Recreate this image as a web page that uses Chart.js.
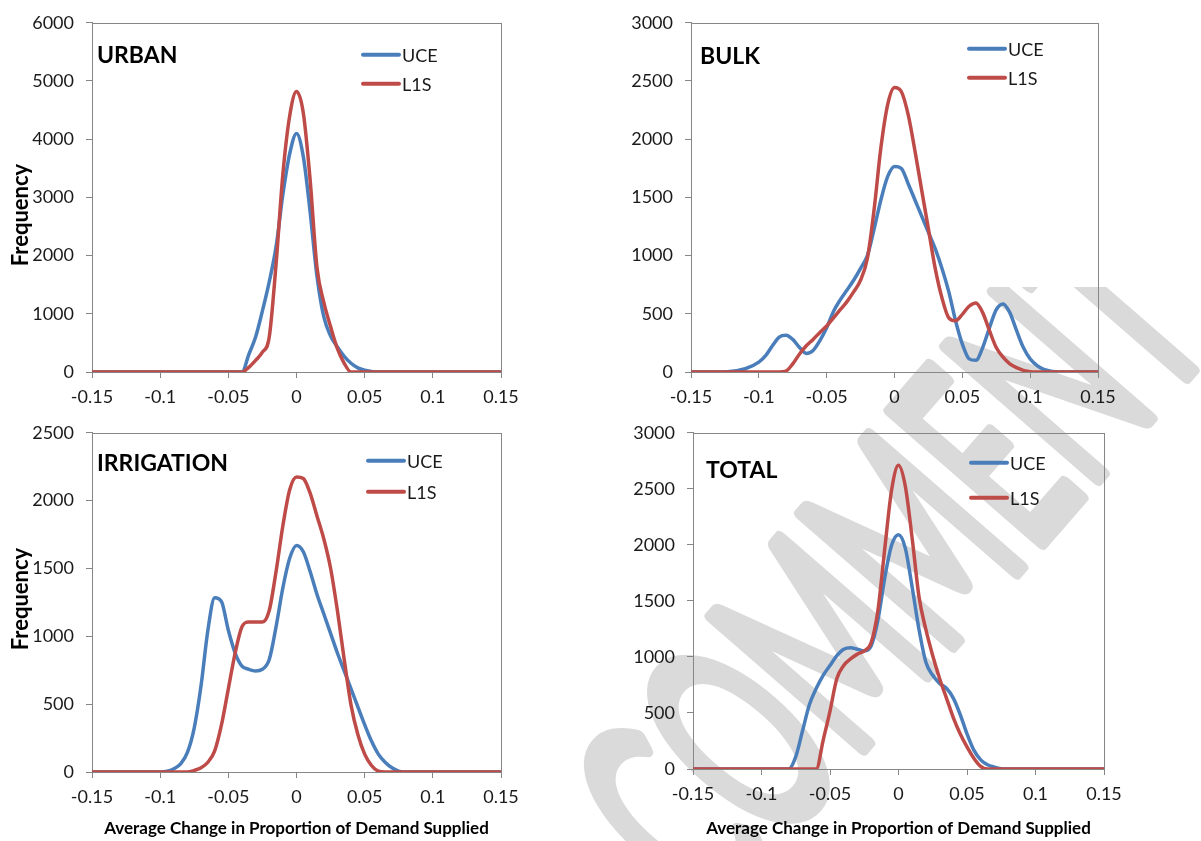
<!DOCTYPE html>
<html>
<head>
<meta charset="utf-8">
<script src="https://cdn.jsdelivr.net/npm/chart.js@4.4.0/dist/chart.umd.min.js"></script>
<style>
  html, body { margin: 0; padding: 0; background: #fff; }
  #page { position: relative; width: 1201px; height: 841px; overflow: hidden; }
  #stamp { position: absolute; left: 0; top: 0; }
  .panel { position: absolute; }
</style>
</head>
<body>
<div id="page">
  <canvas id="stamp" width="1201" height="841"></canvas>
  <canvas id="urban" class="panel" width="600" height="410" style="left:0;top:0"></canvas>
  <canvas id="bulk" class="panel" width="601" height="410" style="left:600px;top:0"></canvas>
  <canvas id="irrigation" class="panel" width="600" height="431" style="left:0;top:410px"></canvas>
  <canvas id="total" class="panel" width="601" height="431" style="left:600px;top:410px"></canvas>
</div>
<script>
// axis ticks
var xTicks = [-0.15, -0.1, -0.05, 0, 0.05, 0.1, 0.15];
var urbanYTicks = [0, 1000, 2000, 3000, 4000, 5000, 6000];
var bulkYTicks = [0, 500, 1000, 1500, 2000, 2500, 3000];
var irrigationYTicks = [0, 500, 1000, 1500, 2000, 2500];
var totalYTicks = [0, 500, 1000, 1500, 2000, 2500, 3000];

// average change in proportion of demand supplied (bin centres)
var xVals = [-0.15, -0.125, -0.11, -0.1, -0.095, -0.09, -0.085, -0.08, -0.075, -0.07,
  -0.065, -0.06, -0.055, -0.05, -0.045, -0.04, -0.035, -0.03, -0.025, -0.02,
  -0.015, -0.01, -0.005, 0, 0.005, 0.01, 0.015, 0.02, 0.025, 0.03,
  0.035, 0.04, 0.045, 0.05, 0.055, 0.06, 0.065, 0.07, 0.075, 0.08,
  0.085, 0.09, 0.095, 0.1, 0.11, 0.125, 0.15];

var seriesNames = ['UCE', 'L1S'];
var seriesColors = ['#4a7ebb', '#be4b48'];

// frequencies
var urbanUCE = [0, 0, 0, 0, 0, 0, 0, 0, 0, 0,
  0, 0, 0, 0, 0, 0, 300, 600, 1050, 1550,
  2150, 3050, 3750, 4100, 3700, 2750, 1650, 950, 620, 430,
  270, 150, 70, 30, 10, 0, 0, 0, 0, 0,
  0, 0, 0, 0, 0, 0, 0];
var urbanL1S = [0, 0, 0, 0, 0, 0, 0, 0, 0, 0,
  0, 0, 0, 0, 0, 0, 80, 200, 340, 600,
  1850, 3400, 4400, 4820, 4450, 3300, 1800, 1200, 780, 400,
  150, 0, 0, 0, 0, 0, 0, 0, 0, 0,
  0, 0, 0, 0, 0, 0, 0];

var bulkUCE = [0, 0, 28, 85, 140, 225, 300, 316, 280, 210,
  160, 185, 270, 380, 520, 620, 705, 790, 890, 1000,
  1230, 1480, 1680, 1765, 1750, 1620, 1480, 1340, 1200, 1060,
  890, 690, 440, 240, 113, 100, 210, 380, 536, 585,
  510, 355, 210, 113, 23, 0, 0];
var bulkL1S = [0, 0, 0, 0, 0, 0, 0, 8, 70, 155,
  225, 280, 340, 395, 465, 535, 605, 690, 790, 975,
  1400, 1930, 2300, 2445, 2410, 2215, 1905, 1565, 1230, 890,
  635, 465, 440, 495, 565, 593, 510, 355, 210, 127,
  70, 37, 14, 3, 0, 0, 0];

var irrigationUCE = [0, 0, 0, 0, 5, 24, 60, 144, 325, 637,
  1045, 1285, 1255, 1045, 877, 781, 757, 745, 757, 829,
  1070, 1358, 1575, 1670, 1623, 1478, 1310, 1166, 1022, 877,
  745, 613, 480, 349, 228, 132, 72, 31, 7, 0,
  0, 0, 0, 0, 0, 0, 0];
var irrigationL1S = [0, 0, 0, 0, 0, 0, 0, 0, 12, 31,
  72, 156, 349, 613, 877, 1070, 1106, 1106, 1106, 1190,
  1478, 1815, 2080, 2175, 2163, 2055, 1887, 1719, 1502, 1190,
  829, 493, 276, 132, 48, 7, 0, 0, 0, 0,
  0, 0, 0, 0, 0, 0, 0];

var totalUCE = [0, 0, 0, 0, 0, 0, 0, 0, 110, 343,
  575, 720, 836, 924, 1011, 1069, 1083, 1069, 1054, 1098,
  1330, 1708, 1998, 2091, 1969, 1620, 1243, 953, 836, 764,
  720, 633, 488, 314, 168, 81, 38, 17, 3, 0,
  0, 0, 0, 0, 0, 0, 0];
var totalL1S = [0, 0, 0, 0, 0, 0, 0, 0, 0, 0,
  0, 0, 256, 517, 807, 924, 982, 1025, 1054, 1127,
  1417, 1969, 2492, 2710, 2521, 2056, 1534, 1243, 1011, 807,
  633, 459, 314, 197, 96, 23, 0, 0, 0, 0,
  0, 0, 0, 0, 0, 0, 0];

var AXIS = '#868686';
var TEXT = '#1a1a1a';
var FONT = 'Lato';

// big grey stamp behind the four charts
function drawStamp() {
  var ctx = document.getElementById('stamp').getContext('2d');
  ctx.save();
  ctx.beginPath();
  ctx.rect(0, 287, 1201, 554);
  ctx.clip();
  ctx.font = '280px ' + FONT;
  var w = ctx.measureText('COMMENT').width;
  ctx.translate(897, 572);
  ctx.rotate(-49 * Math.PI / 180);
  ctx.scale(770 / w, 1);
  ctx.fillStyle = '#dadada';
  ctx.strokeStyle = '#dadada';
  ctx.lineWidth = 14;
  ctx.lineJoin = 'round';
  ctx.textAlign = 'center';
  ctx.textBaseline = 'middle';
  ctx.fillText('COMMENT', 0, 0);
  ctx.strokeText('COMMENT', 0, 0);
  ctx.restore();
}
drawStamp();

function points(ys) {
  return ys.map(function (y, i) { return { x: xVals[i], y: y }; });
}

// box round the plot area
var frame = {
  id: 'frame',
  beforeDatasetsDraw: function (chart) {
    var a = chart.chartArea, ctx = chart.ctx;
    ctx.save();
    ctx.strokeStyle = AXIS;
    ctx.lineWidth = 1;
    ctx.strokeRect(Math.round(a.left) + 0.5, Math.round(a.top) + 0.5,
      Math.round(a.right - a.left), Math.round(a.bottom - a.top));
    ctx.restore();
  }
};

// panel name, legend and y title
var panelLabel = {
  id: 'panelLabel',
  afterDatasetsDraw: function (chart, args, opts) {
    var ctx = chart.ctx, a = chart.chartArea;
    ctx.save();
    ctx.fillStyle = '#000';
    ctx.font = 'bold 23px ' + FONT;
    ctx.textBaseline = 'alphabetic';
    ctx.fillText(opts.text, a.left + opts.dx, a.top + opts.dy);

    if (opts.yTitle) {
      ctx.save();
      ctx.translate(21, opts.yTitleY);
      ctx.rotate(-Math.PI / 2);
      ctx.font = 'bold 22px ' + FONT;
      ctx.textAlign = 'center';
      ctx.textBaseline = 'middle';
      ctx.fillText(opts.yTitle, 0, 0);
      ctx.restore();
    }

    ctx.font = '18px ' + FONT;
    ctx.textBaseline = 'middle';
    ctx.fillStyle = TEXT;
    chart.data.datasets.forEach(function (ds, i) {
      var y = a.top + opts.legendY[i];
      var x0 = a.right - opts.legendX;
      ctx.strokeStyle = ds.borderColor;
      ctx.lineWidth = 4;
      ctx.lineCap = 'round';
      ctx.beginPath();
      ctx.moveTo(x0, y);
      ctx.lineTo(x0 + 36, y);
      ctx.stroke();
      ctx.fillText(ds.label, x0 + 39, y + 1);
    });
    ctx.restore();
  }
};

function makeChart(id, cfg) {
  var el = document.getElementById(id);
  var W = el.width, H = el.height, area = cfg.area;
  return new Chart(el, {
    type: 'line',
    data: {
      datasets: [
        { label: seriesNames[0], data: points(cfg.uce), borderColor: seriesColors[0], order: 2 },
        { label: seriesNames[1], data: points(cfg.l1s), borderColor: seriesColors[1], order: 1 }
      ]
    },
    options: {
      responsive: false,
      animation: false,
      layout: { padding: { left: 0, top: area.top, right: W - area.right, bottom: 0 } },
      elements: {
        point: { radius: 0 },
        line: { borderWidth: 3.5, cubicInterpolationMode: 'monotone', fill: false }
      },
      plugins: {
        legend: { display: false },
        tooltip: { enabled: false },
        panelLabel: cfg.label
      },
      scales: {
        x: {
          type: 'linear',
          min: xTicks[0],
          max: xTicks[xTicks.length - 1],
          afterBuildTicks: function (s) { s.ticks = xTicks.map(function (v) { return { value: v }; }); },
          afterFit: function (s) { s.height = H - area.bottom; },
          ticks: {
            autoSkip: false, maxRotation: 0, padding: 8, color: TEXT,
            font: { family: FONT, size: 18 },
            callback: function (v) { return String(v); }
          },
          grid: { drawOnChartArea: false, drawTicks: true, tickLength: 6, color: AXIS },
          border: { color: AXIS },
          title: {
            display: !!cfg.xTitle, text: cfg.xTitle || '', color: '#000',
            font: { family: FONT, size: 17, weight: 'bold' },
            padding: { top: 0, bottom: 2 }
          }
        },
        y: {
          min: 0,
          max: cfg.yTicks[cfg.yTicks.length - 1],
          afterBuildTicks: function (s) { s.ticks = cfg.yTicks.map(function (v) { return { value: v }; }); },
          afterFit: function (s) { s.width = area.left; },
          ticks: {
            padding: 12, color: TEXT,
            font: { family: FONT, size: 18 },
            callback: function (v) { return String(v); }
          },
          grid: { drawOnChartArea: false, drawTicks: true, tickLength: 6, color: AXIS },
          border: { color: AXIS }
        }
      }
    },
    plugins: [frame, panelLabel]
  });
}

makeChart('urban', {
  uce: urbanUCE, l1s: urbanL1S, yTicks: urbanYTicks,
  area: { left: 92, top: 18, right: 501, bottom: 372 },
  label: { text: 'URBAN', dx: 5, dy: 40, legendX: 138, legendY: [32, 61], yTitle: 'Frequency', yTitleY: 215 }
});
makeChart('bulk', {
  uce: bulkUCE, l1s: bulkL1S, yTicks: bulkYTicks,
  area: { left: 91, top: 17, right: 498, bottom: 372 },
  label: { text: 'BULK', dx: 9, dy: 41, legendX: 129, legendY: [26, 55] }
});
makeChart('irrigation', {
  uce: irrigationUCE, l1s: irrigationL1S, yTicks: irrigationYTicks,
  area: { left: 92, top: 15, right: 501, bottom: 362 },
  xTitle: 'Average Change in Proportion of Demand Supplied',
  label: { text: 'IRRIGATION', dx: 5, dy: 38, legendX: 133, legendY: [28, 59], yTitle: 'Frequency', yTitleY: 189 }
});
makeChart('total', {
  uce: totalUCE, l1s: totalL1S, yTicks: totalYTicks,
  area: { left: 93, top: 15, right: 504, bottom: 359 },
  xTitle: 'Average Change in Proportion of Demand Supplied',
  label: { text: 'TOTAL', dx: 13, dy: 45, legendX: 133, legendY: [30, 65] }
});
</script>
</body>
</html>
